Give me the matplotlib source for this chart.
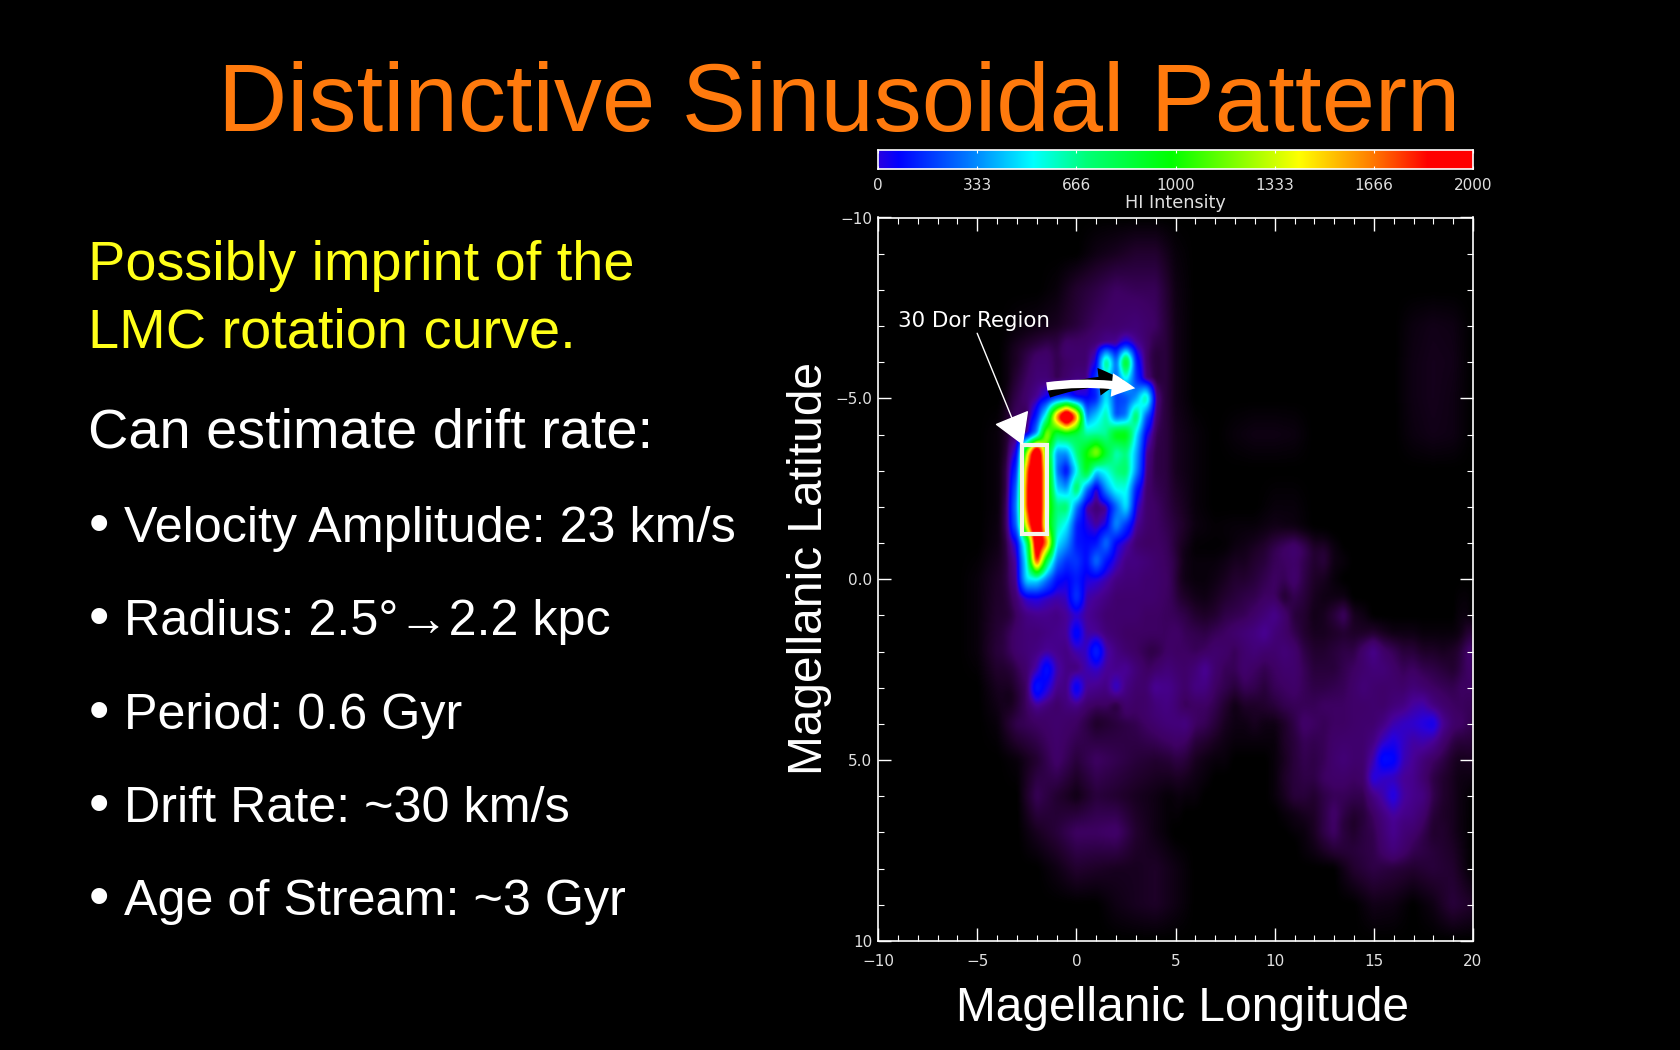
import matplotlib
matplotlib.use("Agg")
import matplotlib.pyplot as plt
import numpy as np
from matplotlib.colors import LinearSegmentedColormap
from matplotlib.patches import FancyArrowPatch, Rectangle

W, H = 1680, 1050

title = "Distinctive Sinusoidal Pattern"
yellow_lines = ["Possibly imprint of the", "LMC rotation curve."]
sub_line = "Can estimate drift rate:"
bullets = ["Velocity Amplitude: 23 km/s", "Radius: 2.5°→2.2 kpc", "Period: 0.6 Gyr",
           "Drift Rate: ~30 km/s", "Age of Stream: ~3 Gyr"]

cbar_ticks = [0, 333, 666, 1000, 1333, 1666, 2000]
x_ticks = [-10, -5, 0, 5, 10, 15, 20]
x_labels = ["\u221210", "\u22125", "0", "5", "10", "15", "20"]
y_ticks = [-10, -5, 0, 5, 10]
y_labels = ["\u221210", "\u22125.0", "0.0", "5.0", "10"]

# HI intensity, whole field, 1 deg steps
bg_lon = np.arange(-10, 21)
bg_lat = np.arange(-10, 11)
bg_values = [
    #-10         -5              0              5              10             15             20
    [0,0,0,0,0, 0,0,0,0,0, 0,0,0,0,0, 0,0,0,0,0, 0,0,0,0,0, 0,0,0,0,0, 0],
    [0,0,0,0,0, 0,0,0,0,0, 0,5,8,12,12, 3,0,0,0,0, 0,0,0,0,0, 0,0,0,0,0, 0],
    [0,0,0,0,0, 0,0,0,0,3, 12,18,25,22,22, 5,0,0,0,0, 0,0,0,0,0, 0,0,0,0,0, 0],
    [0,0,0,0,0, 0,0,3,5,8, 15,25,30,35,25, 6,0,0,0,0, 0,0,0,0,0, 0,0,4,6,5, 0],
    [0,0,0,0,0, 0,0,5,8,15, 25,30,40,50,25, 6,0,0,0,0, 0,0,0,0,0, 0,0,5,7,6, 0],
    [0,0,0,0,0, 0,0,3,10,15, 25,30,40,50,25, 6,0,0,0,0, 0,0,0,0,0, 0,0,5,7,5, 0],
    [0,0,0,0,0, 0,3,10,20,25, 30,30,30,30,25, 8,3,0,3,5, 5,4,0,0,0, 0,0,4,6,5, 0],
    [0,0,0,0,0, 0,3,10,20,25, 30,30,30,30,25, 8,3,0,0,0, 0,0,0,0,0, 0,0,0,0,0, 0],
    [0,0,0,0,0, 0,3,10,20,25, 25,25,25,25,25, 12,3,0,0,0, 3,3,0,0,0, 0,0,0,0,0, 0],
    [0,0,0,0,0, 0,5,15,20,25, 25,25,25,25,28, 18,5,3,5,5, 8,5,0,0,0, 0,0,0,0,0, 0],
    [0,0,0,0,0, 3,10,20,25,25, 25,25,25,25,30, 22,5,8,18,25, 30,20,5,0,0, 0,0,0,0,0, 0],
    [0,0,0,0,0, 3,12,28,30,30, 30,30,25,25,25, 22,12,22,28,30, 40,25,8,15,5, 0,0,0,0,0, 0],
    [0,0,0,0,0, 3,15,28,35,40, 30,35,40,25,25, 25,22,30,35,38, 30,20,15,18,15, 40,28,20,15,20, 30],
    [0,0,0,0,0, 0,8,22,30,30, 30,30,40,35,50, 40,50,30,30,25, 20,22,25,25,25, 35,40,35,30,25, 25],
    [0,0,0,0,0, 0,3,20,25,30, 25,10,15,20,30, 40,30,20,10,5, 8,20,30,30,30, 35,50,70,80,35, 20],
    [0,0,0,0,0, 0,0,3,12,28, 15,25,20,15,12, 15,8,3,0,0, 5,20,25,35,35, 50,120,70,30,15, 8],
    [0,0,0,0,0, 0,0,0,22,12, 5,15,12,8,5, 0,0,0,0,0, 3,20,15,25,20, 40,100,50,35,10, 0],
    [0,0,0,0,0, 0,0,0,8,15, 25,25,28,12,5, 0,0,0,0,0, 0,0,10,28,18, 20,60,30,15,8, 0],
    [0,0,0,0,0, 0,0,0,0,5, 12,10,8,8,10, 5,0,0,0,0, 0,0,0,0,12, 18,15,12,15,12, 0],
    [0,0,0,0,0, 0,0,0,0,0, 0,0,5,8,10, 5,0,0,0,0, 0,0,0,0,0, 6,5,0,5,15, 10],
    [0,0,0,0,0, 0,0,0,0,0, 0,0,0,0,0, 0,0,0,0,0, 0,0,0,0,0, 0,0,0,0,0, 0],
]

# LMC core, 0.5 deg steps
core_lon = np.arange(-4, 5, 0.5)
core_lat = np.arange(-7, 4.5, 0.5)
core_values = [
    [0,0,5,10,15,15,20,30,30,30,35,60,35,30,25,15,5,0],
    [0,5,10,15,20,25,20,35,30,30,40,50,60,150,60,30,10,0],
    [0,5,10,20,30,30,20,25,30,30,90,750,250,1000,150,30,10,0],
    [0,5,15,25,35,35,20,30,40,40,200,500,250,500,200,40,10,0],
    [0,10,20,30,50,100,180,200,100,100,150,500,200,220,350,700,60,10],
    [5,15,25,20,150,600,1700,2500,1700,300,450,650,220,300,800,250,40,5],
    [5,15,30,40,350,1300,800,850,800,650,650,650,1000,1000,500,100,20,5],
    [5,20,100,1300,2400,1000,350,350,700,1000,1300,900,600,700,400,50,15,5],
    [10,30,200,1700,2400,1200,300,90,500,950,450,550,700,750,350,40,15,5],
    [10,30,300,1800,2400,1200,450,350,800,300,50,350,550,550,150,30,20,10],
    [10,40,350,1800,2400,1200,700,750,300,50,30,40,250,500,80,30,25,20],
    [10,40,300,1500,2400,1100,650,500,150,90,50,90,350,180,50,30,25,20],
    [5,25,100,700,2200,1700,500,350,140,120,130,300,100,60,30,25,25,20],
    [5,20,60,550,1900,800,300,180,200,120,300,130,70,40,40,35,30,25],
    [5,20,50,500,500,300,130,100,150,90,80,60,40,35,35,30,30,25],
    [0,15,35,80,90,70,60,70,200,60,50,40,30,30,30,30,30,25],
    [0,10,25,40,45,45,40,50,70,50,40,30,30,30,30,25,25,25],
    [5,20,30,35,35,40,45,50,130,55,50,35,30,25,25,25,25,25],
    [5,20,30,35,40,50,45,40,60,70,170,60,40,30,25,20,15,10],
    [0,10,20,30,60,140,60,40,35,60,70,50,45,50,35,25,25,20],
    [0,5,15,25,150,90,45,40,120,50,45,40,75,40,30,30,50,40],
    [0,0,10,25,60,40,25,40,50,30,25,25,8,30,25,25,30,25],
    [0,0,5,20,30,25,30,30,25,20,8,3,15,30,25,25,30,30],
]

# stream and the clump at lower right, 0.5 deg steps
stream_lon = np.arange(4.5, 20.5, 0.5)
stream_lat = np.arange(-1.5, 8, 0.5)
stream_values = [
    [20,8,3,0,0,0,0,0,3,5,8,12,18,20,12,8,5,0,0,0,0,0,0,0,0,0,0,0,0,0,0,0],
    [20,10,5,0,0,0,0,3,5,8,12,20,28,35,25,12,12,5,0,0,0,0,0,0,0,0,0,0,0,0,0,0],
    [25,15,5,3,3,3,5,8,8,12,15,22,25,28,20,12,15,5,3,0,0,0,0,0,0,0,0,0,0,0,0,0],
    [25,12,5,3,3,5,8,12,12,15,20,25,22,30,18,10,8,3,0,0,0,0,0,0,0,0,0,0,0,0,0,0],
    [25,15,10,6,5,8,12,15,18,20,25,25,12,20,15,8,5,5,5,0,0,0,0,0,0,0,0,0,0,0,3,8],
    [25,22,18,12,10,12,18,20,22,28,35,45,30,15,12,6,8,15,25,8,5,0,0,0,0,0,0,0,0,0,5,15],
    [30,28,22,20,18,22,25,30,35,40,50,35,28,20,12,8,8,10,12,10,10,12,8,5,5,5,3,3,3,3,5,15],
    [35,25,25,22,25,30,28,22,30,35,30,30,35,30,18,12,12,15,18,18,30,45,28,22,15,15,10,10,8,10,15,30],
    [40,30,28,35,50,30,22,22,30,25,20,25,30,30,22,15,15,15,20,25,30,35,35,28,22,25,20,18,15,12,18,25],
    [50,35,28,40,40,25,20,15,22,20,15,22,25,28,22,18,18,20,22,28,35,30,28,30,28,35,30,25,22,20,25,22],
    [35,30,22,25,25,20,12,5,10,10,12,15,20,22,22,22,25,25,25,28,28,30,28,35,40,55,60,40,30,25,22,15],
    [30,35,40,25,22,15,8,5,5,8,5,5,10,18,28,25,22,25,25,28,30,30,40,60,70,75,85,100,50,30,25,12],
    [22,28,25,15,12,8,5,3,3,3,3,3,10,15,22,20,22,28,30,30,30,40,70,90,70,55,60,50,30,18,12,8],
    [12,18,15,8,5,3,3,0,0,0,0,3,8,15,20,18,22,30,35,30,30,60,130,120,65,50,35,25,18,10,5,3],
    [8,10,8,5,3,0,0,0,0,0,0,3,10,15,18,18,25,28,28,25,28,85,70,65,50,45,30,18,12,8,3,0],
    [5,5,3,3,0,0,0,0,0,0,0,3,8,15,15,12,18,22,22,20,20,40,60,90,55,45,40,20,12,8,3,0],
    [3,3,0,0,0,0,0,0,0,0,0,0,3,5,8,10,18,28,18,12,15,25,40,55,45,40,30,15,10,8,3,0],
    [0,0,0,0,0,0,0,0,0,0,0,0,0,3,3,8,18,25,12,8,15,20,30,40,30,30,20,10,12,8,3,0],
    [0,0,0,0,0,0,0,0,0,0,0,0,0,0,0,3,8,10,5,5,12,18,18,15,15,15,8,8,12,10,5,0],
]

# colour table: intensity, rgb
map_levels = [0, 10, 25, 50, 80, 110, 300, 520, 700, 985, 1417, 1650, 1850, 2000]
map_colors = [(0, 0, 0), (30, 0, 40), (62, 0, 100), (72, 0, 150), (40, 0, 220), (0, 0, 255),
              (0, 120, 255), (0, 255, 255), (0, 255, 120), (0, 255, 0), (255, 255, 0),
              (255, 130, 0), (255, 0, 0), (255, 0, 0)]
bar_levels = [0, 67, 300, 520, 700, 985, 1417, 1650, 1850, 2000]
bar_colors = [(40, 0, 225), (0, 0, 255), (0, 120, 255), (0, 255, 255), (0, 255, 120), (0, 255, 0),
              (255, 255, 0), (255, 130, 0), (255, 0, 0), (255, 0, 0)]


def make_cmap(levels, colors):
    stops = [(l / 2000, tuple(c / 255 for c in rgb)) for l, rgb in zip(levels, colors)]
    return LinearSegmentedColormap.from_list("hi", stops, N=4096)


def regrid(lon, lat, values, lon_f, lat_f):
    values = np.array(values, dtype=float)
    by_lon = np.array([np.interp(lon_f, lon, row) for row in values])
    return np.array([np.interp(lat_f, lat, by_lon[:, j]) for j in range(len(lon_f))]).T


def edge_weight(lon, lat, lon_f, lat_f, ramp=0.75):
    # 1 inside a patch, fading to 0 at its border so no seam shows
    wx = np.clip(np.minimum(lon_f - lon[0], lon[-1] - lon_f) / ramp, 0, 1)
    wy = np.clip(np.minimum(lat_f - lat[0], lat[-1] - lat_f) / ramp, 0, 1)
    return np.outer(wy, wx)


def smooth(a, nx, ny):
    kx = np.ones(nx) / nx
    ky = np.ones(ny) / ny
    a = np.apply_along_axis(lambda r: np.convolve(r, kx, mode="same"), 1, a)
    a = np.apply_along_axis(lambda r: np.convolve(r, ky, mode="same"), 0, a)
    return a


def ax_rect(l, t, r, b):
    return [l / W, 1 - b / H, (r - l) / W, (b - t) / H]


plt.rcParams["font.family"] = ["Liberation Sans", "DejaVu Sans"]
fig = plt.figure(figsize=(W / 100, H / 100), dpi=100, facecolor="black")

# slide text
fig.text(839.5 / W, 1 - 131 / H, title, color="#ff7a0d", fontsize=69, ha="center", va="baseline")
fig.text(88 / W, 1 - 280 / H, yellow_lines[0], color="#ffff19", fontsize=40.2, va="baseline")
fig.text(88 / W, 1 - 347 / H, yellow_lines[1], color="#ffff19", fontsize=40.2, va="baseline")
fig.text(88 / W, 1 - 447 / H, sub_line, color="white", fontsize=40.2, va="baseline")
for i, b in enumerate(bullets):
    base = 542 + i * 93.3
    fig.text(89 / W, 1 - base / H, "\u2022", color="white", fontsize=42, va="baseline")
    fig.text(124 / W, 1 - base / H, b, color="white", fontsize=36.2, va="baseline")

fig.text(810 / W, 1 - 568 / H, "Magellanic Latitude", color="white", fontsize=34.5, rotation=90,
         ha="center", va="center")
fig.text(1183 / W, 1 - 1021 / H, "Magellanic Longitude", color="white", fontsize=34.5, ha="center",
         va="baseline")

# map
lon_f = np.linspace(-10, 20, 601)
lat_f = np.linspace(-10, 10, 721)
field = regrid(bg_lon, bg_lat, bg_values, lon_f, lat_f)
for lon, lat, vals in [(core_lon, core_lat, core_values), (stream_lon, stream_lat, stream_values)]:
    patch = regrid(lon, lat, vals, lon_f, lat_f)
    w = edge_weight(lon, lat, lon_f, lat_f)
    field = w * patch + (1 - w) * field
field = smooth(field, 5, 9)

ax = fig.add_axes(ax_rect(878, 217.5, 1473, 941), facecolor="black")
ax.imshow(field, extent=[-10, 20, 10, -10], aspect="auto", cmap=make_cmap(map_levels, map_colors),
          vmin=0, vmax=2000, interpolation="bilinear")
ax.set_xlim(-10, 20)
ax.set_ylim(10, -10)
ax.set_xticks(x_ticks, x_labels)
ax.set_yticks(y_ticks, y_labels)
ax.set_xticks(np.arange(-10, 21), minor=True)
ax.set_yticks(np.arange(-10, 11), minor=True)
ax.tick_params(which="major", direction="in", top=True, right=True, length=9.5, width=1,
               color="white", labelcolor="#e0e0e0", labelsize=11)
ax.tick_params(axis="x", which="major", pad=9)
ax.tick_params(axis="y", which="major", pad=4)
ax.tick_params(which="minor", direction="in", top=True, right=True, length=4.5, width=0.8, color="white")
for lab in ax.get_xticklabels() + ax.get_yticklabels():
    lab.set_family("DejaVu Sans")
for s in ax.spines.values():
    s.set_color("white")
    s.set_linewidth(1.2)

# 30 Dor box and pointers
ax.add_patch(Rectangle((-2.74, -3.71), 1.25, 2.45, fill=False, ec="#f4f4e8", lw=3))
ax.text(-9.0, -7.15, "30 Dor Region", color="white", family="DejaVu Sans", fontsize=15.4, va="center")
ax.annotate("", xy=(-2.69, -3.71), xytext=(-5.0, -6.8),
            arrowprops=dict(arrowstyle="-|>,head_length=20,head_width=12", mutation_scale=1, color="white",
                            lw=1, shrinkA=0, shrinkB=0))
ax.add_patch(FancyArrowPatch((-1.4, -5.15), (2.4, -5.5), connectionstyle="arc3,rad=-0.08",
                             arrowstyle="simple,head_length=18,head_width=20,tail_width=7", mutation_scale=1,
                             color="black", lw=0, shrinkA=0, shrinkB=0))
ax.add_patch(FancyArrowPatch((-1.49, -5.33), (2.97, -5.28), connectionstyle="arc3,rad=-0.08",
                             arrowstyle="simple,head_length=17,head_width=17,tail_width=6", mutation_scale=1,
                             color="white", lw=0, shrinkA=0, shrinkB=0))

# colour bar
cax = fig.add_axes(ax_rect(878, 150, 1473, 169), facecolor="black")
grad = np.linspace(0, 2000, 600).reshape(1, -1)
cax.imshow(grad, extent=[0, 2000, 0, 1], aspect="auto", cmap=make_cmap(bar_levels, bar_colors),
           vmin=0, vmax=2000)
cax.set_yticks([])
cax.set_xticks(cbar_ticks, [str(c) for c in cbar_ticks])
cax.tick_params(which="major", direction="in", top=True, length=2.5, width=0.8, color="white",
                labelcolor="#e0e0e0", labelsize=11, pad=6.5)
for lab in cax.get_xticklabels():
    lab.set_family("DejaVu Sans")
cax.set_xlabel("HI Intensity", color="#e0e0e0", family="DejaVu Sans", fontsize=12.7, labelpad=1)
for s in cax.spines.values():
    s.set_color("white")
    s.set_linewidth(1.2)

fig.savefig("out.png", dpi=100, facecolor="black")
